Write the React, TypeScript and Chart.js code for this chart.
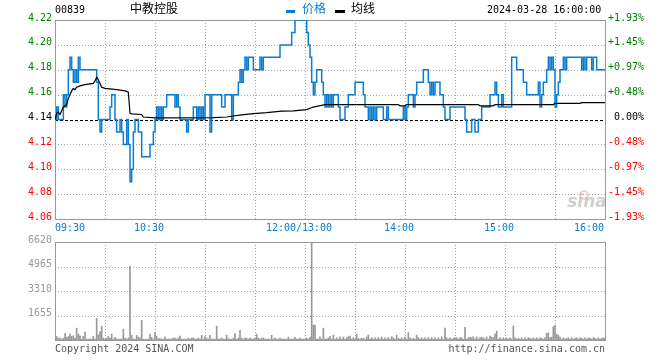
import { useEffect, useRef } from "react";
import { Chart, registerables } from "chart.js";

Chart.register(...registerables);

// ---------- texts ----------
const STOCK_CODE = "00839";
const STOCK_NAME = "中教控股";
const DATE_TIME = "2024-03-28 16:00:00";
const LEGEND_NAMES = ["价格", "均线"];
const COPYRIGHT = "Copyright 2024 SINA.COM";
const SITE_URL = "http://finance.sina.com.cn";
const WATERMARK = "sina";

// ---------- axes ----------
const PREV_CLOSE = 4.14;
const PRICE_TICKS = [4.06, 4.08, 4.1, 4.12, 4.14, 4.16, 4.18, 4.2, 4.22];
const VOLUME_TICKS = [0, 1655, 3310, 4965, 6620];
const TOTAL_MINUTES = 330;
const GRID_MINUTES = [30, 60, 90, 120, 150, 180, 210, 240, 270, 300];
const TIME_TICK_MINUTES = [0, 60, 150, 210, 270, 330];
const TIME_TICK_LABELS = ["09:30", "10:30", "12:00/13:00", "14:00", "15:00", "16:00"];

// ---------- price (minute where a new price starts, price) ----------
const priceMinutes = [
  0, 1, 2, 5, 6, 7, 8, 9, 10, 11,
  12, 13, 14, 15, 25, 26, 27, 28, 33, 34,
  36, 37, 39, 40, 41, 43, 44, 45, 46, 47,
  48, 50, 52, 57, 59, 60, 61, 62, 63, 64,
  65, 67, 72, 73, 74, 75, 79, 80, 83, 85,
  86, 87, 88, 89, 90, 93, 94, 100, 102, 106,
  107, 110, 111, 112, 113, 114, 115, 116, 119, 123,
  124, 125, 135, 142, 144, 151, 152, 153, 154, 155,
  156, 157, 160, 161, 162, 163, 164, 165, 166, 167,
  170, 171, 174, 176, 180, 185, 186, 188, 189, 190,
  191, 192, 193, 197, 199, 200, 209, 210, 211, 212,
  215, 216, 217, 221, 224, 225, 226, 227, 228, 231,
  233, 234, 237, 246, 247, 250, 252, 254, 256, 261,
  264, 265, 266, 268, 269, 274, 277, 281, 283, 290,
  291, 292, 293, 295, 296, 297, 298, 299, 300, 301,
  302, 303, 305, 306, 307, 316, 317, 318, 319, 322,
  323, 325, 330,
];
const priceValues = [
  4.14, 4.15, 4.14, 4.16, 4.15, 4.16, 4.18, 4.19, 4.18, 4.17,
  4.18, 4.17, 4.19, 4.18, 4.17, 4.14, 4.13, 4.14, 4.15, 4.16,
  4.14, 4.13, 4.14, 4.13, 4.12, 4.14, 4.12, 4.09, 4.10, 4.13,
  4.14, 4.13, 4.11, 4.12, 4.13, 4.14, 4.15, 4.14, 4.15, 4.14,
  4.15, 4.16, 4.15, 4.16, 4.15, 4.14, 4.13, 4.14, 4.15, 4.14,
  4.15, 4.14, 4.15, 4.14, 4.16, 4.13, 4.16, 4.15, 4.16, 4.14,
  4.16, 4.17, 4.18, 4.17, 4.18, 4.19, 4.18, 4.19, 4.18, 4.19,
  4.18, 4.19, 4.20, 4.21, 4.22, 4.21, 4.20, 4.19, 4.17, 4.16,
  4.17, 4.18, 4.17, 4.16, 4.15, 4.16, 4.15, 4.16, 4.15, 4.16,
  4.15, 4.14, 4.15, 4.16, 4.17, 4.16, 4.15, 4.14, 4.15, 4.14,
  4.15, 4.14, 4.15, 4.14, 4.15, 4.14, 4.15, 4.14, 4.15, 4.16,
  4.15, 4.16, 4.17, 4.18, 4.17, 4.16, 4.17, 4.16, 4.17, 4.16,
  4.15, 4.14, 4.15, 4.14, 4.13, 4.14, 4.13, 4.14, 4.15, 4.16,
  4.17, 4.16, 4.15, 4.16, 4.15, 4.19, 4.18, 4.17, 4.16, 4.17,
  4.15, 4.16, 4.17, 4.18, 4.19, 4.18, 4.19, 4.18, 4.15, 4.16,
  4.17, 4.18, 4.19, 4.18, 4.19, 4.18, 4.19, 4.18, 4.19, 4.18,
  4.19, 4.18, 4.18,
];

// ---------- average price ----------
const avgMinutes = [
  0, 1, 2, 3, 4, 5, 7, 8, 10, 11,
  12, 13, 15, 18, 23, 24, 25, 26, 27, 28,
  30, 37, 42, 44, 45, 46, 52, 53, 60, 95,
  103, 107, 112, 119, 127, 136, 143, 151, 155, 162,
  206, 207, 210, 211, 254, 255, 263, 264, 299, 300,
  315, 316, 330,
];
const avgValues = [
  4.14, 4.145, 4.146, 4.144, 4.147, 4.15, 4.152, 4.157, 4.163, 4.165,
  4.164, 4.166, 4.167, 4.168, 4.169, 4.171, 4.174, 4.172, 4.169, 4.166,
  4.165, 4.164, 4.163, 4.162, 4.145, 4.1445, 4.144, 4.142, 4.1413, 4.1415,
  4.142, 4.1428, 4.1437, 4.1447, 4.1455, 4.1467, 4.147, 4.148, 4.15, 4.152,
  4.152, 4.151, 4.151, 4.152, 4.152, 4.151, 4.151, 4.152, 4.152, 4.153,
  4.153, 4.1535, 4.1535,
];

// ---------- volume per minute (0..330) ----------
const volumes = [
  100, 240, 130, 130, 60, 130, 440, 180, 240, 400,
  240, 290, 130, 800, 400, 290, 60, 240, 530, 60,
  66, 66, 66, 240, 66, 1460, 350, 570, 930, 130,
  60, 130, 240, 130, 400, 60, 180, 66, 66, 66,
  66, 730, 130, 60, 130, 5000, 310, 60, 60, 310,
  180, 130, 1320, 40, 40, 40, 60, 400, 180, 60,
  510, 240, 90, 90, 66, 60, 220, 60, 66, 66,
  66, 130, 130, 60, 130, 260, 60, 66, 60, 60,
  130, 60, 130, 130, 60, 60, 130, 66, 310, 60,
  220, 130, 60, 310, 60, 66, 60, 930, 60, 66,
  130, 66, 60, 330, 90, 66, 60, 130, 440, 60,
  130, 660, 130, 60, 130, 130, 60, 130, 66, 60,
  130, 400, 130, 60, 130, 130, 60, 66, 60, 66,
  310, 60, 130, 66, 60, 130, 66, 60, 66, 60,
  180, 66, 66, 60, 180, 60, 66, 130, 60, 66,
  60, 130, 66, 180, 6620, 1000, 1000, 66, 66, 220,
  60, 800, 60, 66, 130, 240, 66, 330, 60, 150,
  60, 220, 60, 200, 60, 150, 220, 260, 60, 150,
  60, 400, 110, 60, 110, 110, 60, 200, 330, 60,
  150, 60, 150, 60, 150, 60, 200, 60, 150, 60,
  150, 60, 220, 150, 60, 330, 110, 60, 150, 60,
  200, 60, 500, 150, 60, 110, 60, 330, 150, 60,
  150, 60, 150, 60, 150, 60, 150, 60, 150, 60,
  150, 60, 220, 60, 800, 150, 60, 150, 60, 110,
  150, 150, 60, 150, 150, 60, 860, 60, 150, 200,
  150, 220, 60, 200, 60, 150, 200, 150, 60, 200,
  60, 260, 200, 150, 420, 600, 60, 150, 60, 150,
  60, 150, 60, 150, 60, 950, 150, 60, 110, 60,
  150, 60, 150, 60, 150, 110, 60, 150, 60, 150,
  60, 150, 110, 60, 150, 440, 490, 150, 200, 900,
  990, 400, 330, 200, 60, 150, 60, 110, 150, 60,
  150, 60, 110, 150, 60, 150, 110, 60, 150, 60,
  150, 110, 60, 150, 110, 60, 150, 60, 110, 150,
  110,
];

// ---------- styles ----------
const BLUE = "#0b7dd0";
const GREEN = "#008000";
const RED = "#ff0000";
const GRID = "#aaaaaa";
const BORDER = "#999999";
const VOL_GRAY = "#999999";
const FONT_MONO = '"DejaVu Sans Mono", "Liberation Mono", monospace';
const FONT_CJK = '"Noto Sans CJK SC", sans-serif';

const crisp = (v: number) => Math.round(v) + 0.5;

function line(ctx: CanvasRenderingContext2D, x1: number, y1: number, x2: number, y2: number) {
  ctx.beginPath();
  ctx.moveTo(x1, y1);
  ctx.lineTo(x2, y2);
  ctx.stroke();
}

function priceColor(v: number) {
  if (v > PREV_CLOSE + 1e-6) return GREEN;
  if (v < PREV_CLOSE - 1e-6) return RED;
  return "#000000";
}

const pricePlugin = {
  id: "priceFrame",
  beforeDatasetsDraw(chart: any) {
    const { ctx, chartArea: a, scales } = chart;
    const xs = scales.x;
    const ys = scales.y;
    ctx.save();
    // watermark
    ctx.font = 'italic bold 17px "DejaVu Sans", sans-serif';
    ctx.fillStyle = "rgba(170,170,170,0.55)";
    ctx.textAlign = "center";
    ctx.textBaseline = "alphabetic";
    ctx.fillText(WATERMARK, 587, 207);
    ctx.strokeStyle = "rgba(225,120,120,0.45)";
    ctx.lineWidth = 1.5;
    ctx.beginPath();
    ctx.arc(584, 195, 4, 0, Math.PI * 2);
    ctx.stroke();

    ctx.lineWidth = 1;
    ctx.strokeStyle = GRID;
    ctx.setLineDash([1, 2]);
    for (const m of GRID_MINUTES) {
      const px = crisp(xs.getPixelForValue(m));
      line(ctx, px, a.top, px, a.bottom);
    }
    for (const v of PRICE_TICKS) {
      if (v === PRICE_TICKS[0] || v === PRICE_TICKS[PRICE_TICKS.length - 1]) continue;
      if (Math.abs(v - PREV_CLOSE) < 1e-6) continue;
      const py = crisp(ys.getPixelForValue(v));
      line(ctx, a.left, py, a.right, py);
    }
    ctx.strokeStyle = "#000000";
    ctx.setLineDash([3, 2]);
    const by = crisp(ys.getPixelForValue(PREV_CLOSE));
    line(ctx, a.left, by, a.right, by);

    ctx.setLineDash([]);
    ctx.strokeStyle = BORDER;
    ctx.strokeRect(crisp(a.left), crisp(a.top), Math.round(a.right) - Math.round(a.left), Math.round(a.bottom) - Math.round(a.top));
    ctx.restore();
  },
  afterDraw(chart: any) {
    const { ctx, chartArea: a, scales } = chart;
    const xs = scales.x;
    ctx.save();
    ctx.textBaseline = "alphabetic";
    // header
    ctx.fillStyle = "#000000";
    ctx.font = `10px ${FONT_MONO}`;
    ctx.textAlign = "left";
    ctx.fillText(STOCK_CODE, 55, 13);
    ctx.fillText(DATE_TIME, 487, 13);
    ctx.font = `12px ${FONT_CJK}`;
    ctx.fillText(STOCK_NAME, 130, 13);
    // legend
    ctx.fillStyle = BLUE;
    ctx.fillRect(286, 10, 9, 3);
    ctx.fillText(LEGEND_NAMES[0], 302, 13);
    ctx.fillStyle = "#000000";
    ctx.fillRect(335, 10, 10, 3);
    ctx.fillText(LEGEND_NAMES[1], 351, 13);
    // time labels
    ctx.font = `10px ${FONT_MONO}`;
    ctx.fillStyle = BLUE;
    TIME_TICK_MINUTES.forEach((m, i) => {
      const px = xs.getPixelForValue(m);
      if (i === 0) {
        ctx.textAlign = "left";
        ctx.fillText(TIME_TICK_LABELS[i], px, 231);
      } else if (i === TIME_TICK_MINUTES.length - 1) {
        ctx.textAlign = "right";
        ctx.fillText(TIME_TICK_LABELS[i], px - 1, 231);
      } else {
        ctx.textAlign = "center";
        ctx.fillText(TIME_TICK_LABELS[i], px - 6, 231);
      }
    });
    ctx.restore();
  },
};

const volumePlugin = {
  id: "volumeFrame",
  beforeDatasetsDraw(chart: any) {
    const { ctx, chartArea: a, scales } = chart;
    const xs = scales.x;
    const ys = scales.y;
    ctx.save();
    ctx.lineWidth = 1;
    ctx.strokeStyle = GRID;
    ctx.setLineDash([1, 2]);
    for (const m of GRID_MINUTES) {
      const px = crisp(xs.getPixelForValue(m));
      line(ctx, px, a.top, px, a.bottom);
    }
    for (const v of VOLUME_TICKS) {
      if (v === VOLUME_TICKS[0] || v === VOLUME_TICKS[VOLUME_TICKS.length - 1]) continue;
      const py = crisp(ys.getPixelForValue(v));
      line(ctx, a.left, py, a.right, py);
    }
    ctx.setLineDash([]);
    ctx.strokeStyle = BORDER;
    ctx.strokeRect(crisp(a.left), crisp(a.top), Math.round(a.right) - Math.round(a.left), Math.round(a.bottom) - Math.round(a.top));
    ctx.restore();
  },
  afterDraw(chart: any) {
    const { ctx, chartArea: a } = chart;
    ctx.save();
    ctx.font = `10px ${FONT_MONO}`;
    ctx.fillStyle = "#555555";
    ctx.textBaseline = "alphabetic";
    ctx.textAlign = "left";
    ctx.fillText(COPYRIGHT, a.left, 119);
    ctx.textAlign = "right";
    ctx.fillText(SITE_URL, a.right, 119);
    ctx.restore();
  },
};

export default function App() {
  const priceRef = useRef<HTMLCanvasElement>(null);
  const volRef = useRef<HTMLCanvasElement>(null);

  useEffect(() => {
    document.body.style.margin = "0";
    const tickFont = { family: FONT_MONO, size: 10 };

    const priceChart = new Chart(priceRef.current as HTMLCanvasElement, {
      type: "line",
      data: {
        datasets: [
          {
            label: LEGEND_NAMES[1],
            data: avgMinutes.map((m, i) => ({ x: m, y: avgValues[i] })),
            borderColor: "#000000",
            borderWidth: 1.2,
            pointRadius: 0,
            fill: false,
            tension: 0,
            order: 1,
          },
          {
            label: LEGEND_NAMES[0],
            data: priceMinutes.map((m, i) => ({ x: m, y: priceValues[i] })),
            borderColor: BLUE,
            borderWidth: 1.5,
            pointRadius: 0,
            fill: false,
            stepped: true,
            order: 2,
          },
        ],
      },
      options: {
        animation: false,
        responsive: false,
        devicePixelRatio: 1,
        layout: { padding: { top: 20, bottom: 14, left: 0, right: 0 } },
        plugins: { legend: { display: false }, tooltip: { enabled: false } },
        scales: {
          x: { type: "linear", min: 0, max: TOTAL_MINUTES, display: false },
          y: {
            position: "left",
            min: PRICE_TICKS[0],
            max: PRICE_TICKS[PRICE_TICKS.length - 1],
            afterBuildTicks: (s: any) => {
              s.ticks = PRICE_TICKS.map((v) => ({ value: v }));
            },
            afterFit: (s: any) => {
              s.width = 55;
            },
            grid: { display: false, drawTicks: false },
            border: { display: false },
            ticks: {
              font: tickFont,
              padding: 3,
              labelOffset: -2,
              color: (c: any) => priceColor(c.tick.value),
              callback: (v: any) => Number(v).toFixed(2),
            },
          },
          y2: {
            position: "right",
            min: PRICE_TICKS[0],
            max: PRICE_TICKS[PRICE_TICKS.length - 1],
            afterBuildTicks: (s: any) => {
              s.ticks = PRICE_TICKS.map((v) => ({ value: v }));
            },
            afterFit: (s: any) => {
              s.width = 55;
            },
            grid: { display: false, drawTicks: false },
            border: { display: false },
            ticks: {
              font: tickFont,
              padding: 3,
              labelOffset: -2,
              color: (c: any) => priceColor(c.tick.value),
              callback: (v: any) => {
                const pct = ((Number(v) - PREV_CLOSE) / PREV_CLOSE) * 100;
                if (Math.abs(pct) < 1e-6) return " 0.00%";
                return (pct > 0 ? "+" : "-") + Math.abs(pct).toFixed(2) + "%";
              },
            },
          },
        },
      },
      plugins: [pricePlugin],
    } as any);

    const volumeChart = new Chart(volRef.current as HTMLCanvasElement, {
      type: "bar",
      data: {
        datasets: [
          {
            label: "volume",
            data: volumes.map((v, i) => ({ x: i, y: v })),
            backgroundColor: VOL_GRAY,
            borderWidth: 0,
            barThickness: 1,
            grouped: false,
          },
        ],
      },
      options: {
        animation: false,
        responsive: false,
        devicePixelRatio: 1,
        layout: { padding: { top: 7, bottom: 20, left: 0, right: 55 } },
        plugins: { legend: { display: false }, tooltip: { enabled: false } },
        scales: {
          x: { type: "linear", min: 0, max: TOTAL_MINUTES, offset: false, display: false },
          y: {
            position: "left",
            min: VOLUME_TICKS[0],
            max: VOLUME_TICKS[VOLUME_TICKS.length - 1],
            afterBuildTicks: (s: any) => {
              s.ticks = VOLUME_TICKS.map((v) => ({ value: v }));
            },
            afterFit: (s: any) => {
              s.width = 55;
            },
            grid: { display: false, drawTicks: false },
            border: { display: false },
            ticks: {
              font: tickFont,
              padding: 3,
              labelOffset: -2,
              color: "#999999",
              callback: (v: any) => (Number(v) === 0 ? "" : String(v)),
            },
          },
        },
      },
      plugins: [volumePlugin],
    } as any);

    return () => {
      priceChart.destroy();
      volumeChart.destroy();
    };
  }, []);

  return (
    <div style={{ position: "fixed", left: 0, top: 0, width: 660, height: 360, background: "#ffffff", overflow: "hidden" }}>
      <canvas ref={priceRef} width={660} height={233} style={{ position: "absolute", left: 0, top: 0, width: 660, height: 233 }} />
      <canvas ref={volRef} width={660} height={127} style={{ position: "absolute", left: 0, top: 233, width: 660, height: 127 }} />
    </div>
  );
}
